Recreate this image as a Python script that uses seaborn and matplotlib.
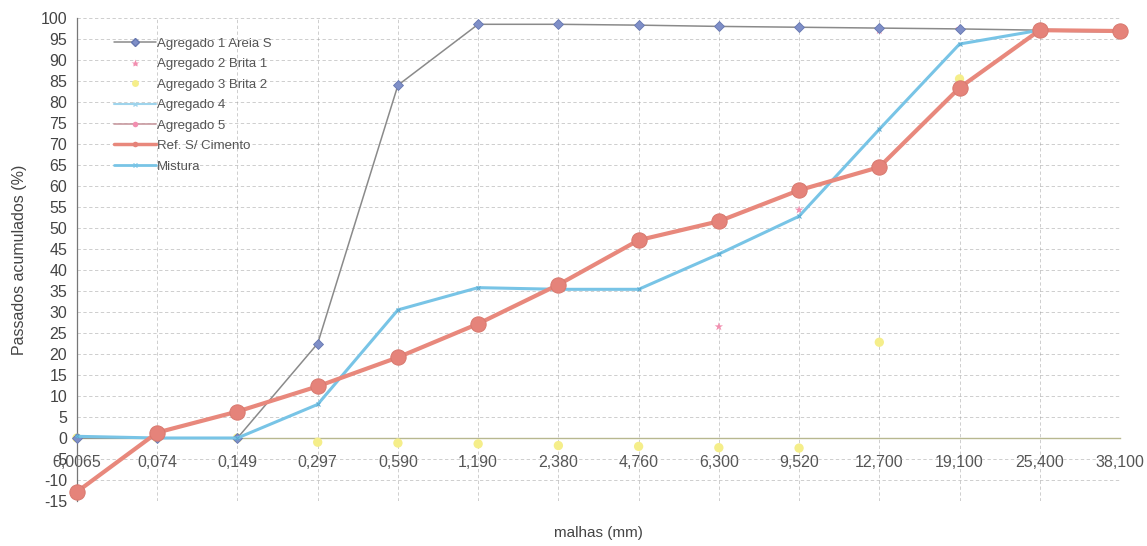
import numpy as np
import pandas as pd
import matplotlib
matplotlib.use("Agg")
import matplotlib.pyplot as plt
from matplotlib.lines import Line2D
import seaborn as sns

sieves = ["0,0065", "0,074", "0,149", "0,297", "0,590", "1,190", "2,380", "4,760",
          "6,300", "9,520", "12,700", "19,100", "25,400", "38,100"]
agregado1 = [0, 0, 0, 22.5, 84, 98.5, 98.5, 98.3, 98.0, 97.8, 97.6, 97.4, 97.1, 96.8]
agregado2 = [np.nan, np.nan, np.nan, np.nan, np.nan, np.nan, np.nan, np.nan,
             26.5, 54.3, 97.0, 97.5, 97.1, 96.8]
agregado3 = [0, 0, 0, -1.0, -1.2, -1.4, -1.8, -2.0, -2.3, -2.4, 22.8, 85.5, 97.1, 96.8]
agregado4 = [np.nan] * 14
agregado5 = [np.nan] * 14
ref_cimento = [-12.8, 1.3, 6.3, 12.3, 19.2, 27.2, 36.5, 47.1, 51.6, 59.0, 64.5, 83.4, 97.1, 96.9]
mistura = [0.4, 0, 0, 8.0, 30.5, 35.8, 35.4, 35.4, 43.8, 52.8, 73.5, 93.8, 97.1, 96.8]

pos = np.arange(len(sieves))

sns.set_theme(style="white")
plt.rcParams['font.family'] = ['Liberation Sans', 'DejaVu Sans']
plt.rcParams['axes.unicode_minus'] = False

fig = plt.figure(figsize=(11.47, 5.46), dpi=100)
ax = fig.add_axes([77/1147, 45/546, (1120-77)/1147, (501-18)/546])

c_a1_line = "#8a8a8a"
c_a1_mk = "#7f8fc8"
c_a2 = "#f28fb0"
c_a3 = "#f5ee8a"
c_a4 = "#9fd4ec"
c_a5 = "#c89aa0"
c_ref = "#e8887c"
c_ref_mk = "#e5837a"
c_mis = "#78c4e6"

# Agregado 3 (markers only)
sns.scatterplot(x=pos, y=agregado3, ax=ax, color=c_a3, s=45, marker="o",
                edgecolor="none", zorder=3, clip_on=False, legend=False)
# Agregado 2 (markers only)
sns.scatterplot(x=pos, y=agregado2, ax=ax, color=c_a2, s=40, marker="*",
                edgecolor="none", zorder=3, clip_on=False, legend=False)
# Agregado 1
sns.lineplot(x=pos, y=agregado1, ax=ax, color=c_a1_line, linewidth=1.1, zorder=4,
             marker="D", markersize=5, markerfacecolor=c_a1_mk, markeredgecolor="#6677b0",
             markeredgewidth=0.6, clip_on=False)
# Mistura
sns.lineplot(x=pos, y=mistura, ax=ax, color=c_mis, linewidth=2.2, zorder=5,
             marker="x", markersize=3, markeredgecolor="#5aaad0", clip_on=False)
# Ref. S/ Cimento
sns.lineplot(x=pos, y=ref_cimento, ax=ax, color=c_ref, linewidth=3.0, zorder=6,
             marker="o", markersize=11, markerfacecolor=c_ref_mk, markeredgecolor="#d97a70",
             clip_on=False)

ax.set_xlim(0, len(sieves) - 1)
ax.set_ylim(-15, 100)
ax.set_yticks(np.arange(-15, 101, 5))
ax.set_xticks(pos)
ax.set_xticklabels(sieves)
ax.tick_params(axis="y", labelsize=11.5, colors="#444444", length=3, width=0.7, pad=4)
ax.tick_params(axis="x", labelsize=11.5, colors="#555555", length=0, pad=12)

ax.grid(True, color="#a0a0a0", linestyle=(0, (4, 3)), linewidth=0.6, alpha=0.6)
for s in ["top", "right"]:
    ax.spines[s].set_visible(False)
ax.spines["bottom"].set_position(("data", 0))
ax.spines["bottom"].set_color("#b8b890")
ax.spines["bottom"].set_linewidth(1.0)
ax.spines["left"].set_color("#777777")
ax.spines["left"].set_linewidth(0.9)

ax.set_ylabel("Passados acumulados (%)", fontsize=11.5, color="#444444", labelpad=10)
fig.text(598/1147, 1 - 533/546, "malhas (mm)", ha="center", va="center",
         fontsize=11, color="#444444")

handles = [
    Line2D([], [], color=c_a1_line, lw=1.1, marker="D", markersize=4,
           markerfacecolor=c_a1_mk, markeredgecolor="#6677b0"),
    Line2D([], [], color="none", marker="*", markersize=6, markerfacecolor=c_a2,
           markeredgecolor="none"),
    Line2D([], [], color="none", marker="o", markersize=5, markerfacecolor=c_a3,
           markeredgecolor="none"),
    Line2D([], [], color=c_a4, lw=1.5, marker="x", markersize=3, markeredgecolor=c_a4),
    Line2D([], [], color=c_a5, lw=1.2, marker="o", markersize=4, markerfacecolor=c_a2,
           markeredgecolor="none"),
    Line2D([], [], color=c_ref, lw=2.5, marker="o", markersize=4, markerfacecolor=c_ref_mk,
           markeredgecolor="none"),
    Line2D([], [], color=c_mis, lw=2.0, marker="x", markersize=3, markeredgecolor=c_mis),
]
labels = ["Agregado 1 Areia S", "Agregado 2 Brita 1", "Agregado 3 Brita 2", "Agregado 4",
          "Agregado 5", "Ref. S/ Cimento", "Mistura"]
leg = ax.legend(handles, labels, loc="upper left", bbox_to_anchor=(0.03, 0.97),
                frameon=False, fontsize=9.5, handlelength=3.2, handletextpad=0.1,
                labelspacing=0.62, borderaxespad=0)
for t in leg.get_texts():
    t.set_color("#555555")

fig.savefig("out.png", dpi=100, facecolor="white")
